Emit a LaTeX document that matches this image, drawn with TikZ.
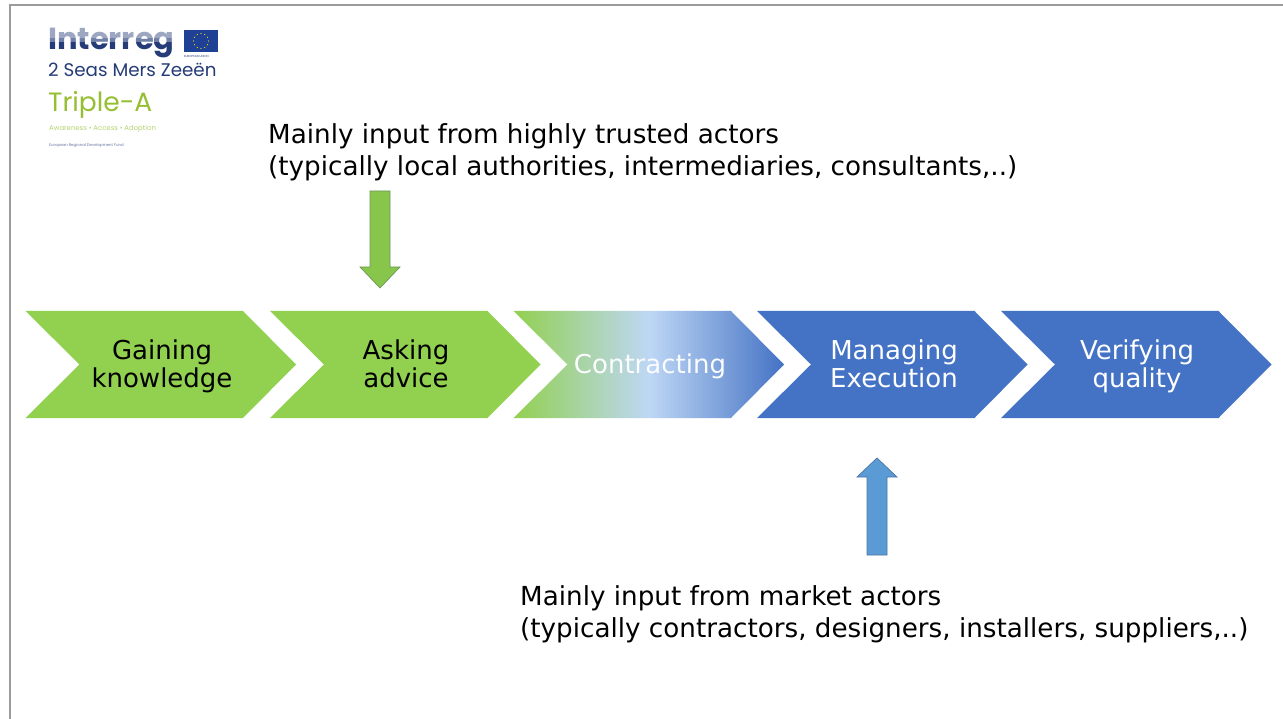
\documentclass[tikz,border=0pt]{standalone}
\usepackage{fontspec}
\setmainfont{DejaVu Sans}
\newfontfamily\logofont{Poppins}
\definecolor{frameg}{RGB}{155,155,155}
\definecolor{leafg}{RGB}{146,208,80}
\definecolor{royal}{RGB}{68,114,196}
\definecolor{pale}{RGB}{190,215,245}
\definecolor{arrg}{RGB}{135,198,75}
\definecolor{arrgline}{RGB}{110,150,90}
\definecolor{arrb}{RGB}{91,155,213}
\definecolor{arrbline}{RGB}{75,115,165}
\definecolor{navy}{RGB}{38,60,120}
\definecolor{tripleg}{RGB}{150,190,50}
\definecolor{euflag}{RGB}{30,65,150}
\usetikzlibrary{calc}
\tikzset{
  x=1pt,y=-1pt,
  steplabel/.style={font=\fontsize{26}{28.5}\selectfont,align=center,text=black,inner sep=0},
  remark/.style={font=\fontsize{26.2}{32}\selectfont,align=left,anchor=north west,inner sep=0,text=black},
  logotext/.style={anchor=west,inner sep=0},
  bigarrow/.style={line width=0.7pt,line join=miter},
  chevron/.pic={\path[pic actions] (0,0) -- (217.5,0) -- (270.5,53.5) -- (217.5,107) -- (0,107) -- (54,53.5) -- cycle;},
}
\begin{document}
\begin{tikzpicture}
\useasboundingbox (0,0) rectangle (1283,719);
\fill[white] (0,0) rectangle (1283,719);
\draw[frameg,line width=2pt] (10,719) -- (10,5) -- (1283,5);
% chevrons
\pic[fill=leafg] at (25.5,311) {chevron};
\pic[fill=leafg] at (270,311) {chevron};
\pic[left color=leafg,right color=royal,middle color=pale] at (513.5,311) {chevron};
\pic[fill=royal] at (757,311) {chevron};
\pic[fill=royal] at (1001,311) {chevron};
\node[steplabel] (s1) at (162,368) {\strut Gaining\\\strut knowledge};
\node[steplabel] (s2) at (406,368) {\strut Asking\\\strut advice};
\node[steplabel,text=white!92!pale] (s3) at (650,368) {\strut Contracting};
\node[steplabel,text=white] (s4) at (894,368) {\strut Managing\\\strut Execution};
\node[steplabel,text=white] (s5) at (1137,368) {\strut Verifying\\\strut quality};
% arrows
\draw[bigarrow,fill=arrg,draw=arrgline] (370,191) -- (390,191) -- (390,267) -- (400,267) -- (380,288) -- (360,267) -- (370,267) -- cycle;
\draw[bigarrow,fill=arrb,draw=arrbline] (867,555) -- (887,555) -- (887,477) -- (897,477) -- (877,458) -- (857,477) -- (867,477) -- cycle;
% remarks
\node[remark] (r1) at (268,123) {Mainly input from highly trusted actors\\(typically local authorities, intermediaries, consultants,..)};
\node[remark] (r2) at (520,585) {Mainly input from market actors\\(typically contractors, designers, installers, suppliers,..)};
% logo
\node[logotext,text=navy,font=\logofont\fontsize{30.5}{30}\selectfont\bfseries] (l1) at (48,43) {Interreg};
\fill[white,opacity=.55] (46,26) rectangle (176,38);
\fill[white,opacity=.35] (46,38) rectangle (176,42);
\fill[euflag] (184,30) rectangle (218,52);
\foreach \a in {0,30,...,330}
  \fill[yellow!85!orange] ($(201,41)+(\a:7.5pt)$) circle (0.6pt);
\node[logotext,text=navy,font=\logofont\fontsize{2.9}{3}\selectfont] (l1b) at (184,56) {EUROPEAN UNION};
\node[logotext,text=navy,font=\logofont\fontsize{18.3}{18}\selectfont] (l2) at (48,70) {2 Seas Mers Zeeën};
\node[logotext,text=tripleg,font=\logofont\fontsize{26.5}{26}\selectfont] (l3) at (48,105) {Triple-A};
\node[logotext,text=tripleg!70,font=\logofont\fontsize{6.9}{7}\selectfont] (l4) at (49,129) {Awareness • Access • Adoption};
\node[logotext,text=navy!70,font=\logofont\fontsize{3.9}{4}\selectfont] (l5) at (49,146) {European Regional Development Fund};
\end{tikzpicture}
\end{document}
